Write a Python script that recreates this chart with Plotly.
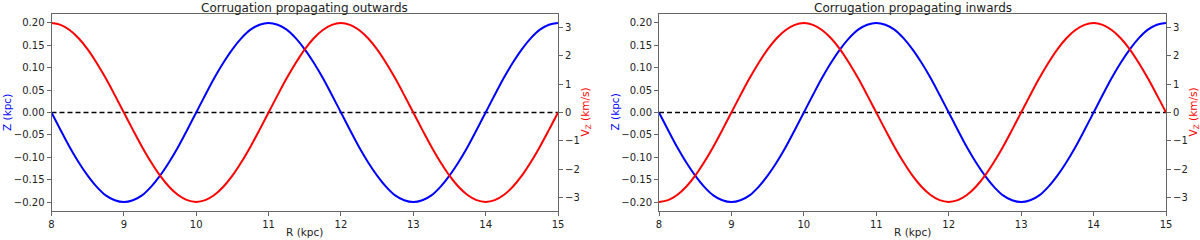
import plotly.graph_objects as go

# Galactocentric radius samples (kpc)
R = [8.0, 8.125, 8.25, 8.375, 8.5, 8.625, 8.75, 8.875,
     9.0, 9.125, 9.25, 9.375, 9.5, 9.625, 9.75, 9.875,
     10.0, 10.125, 10.25, 10.375, 10.5, 10.625, 10.75, 10.875,
     11.0, 11.125, 11.25, 11.375, 11.5, 11.625, 11.75, 11.875,
     12.0, 12.125, 12.25, 12.375, 12.5, 12.625, 12.75, 12.875,
     13.0, 13.125, 13.25, 13.375, 13.5, 13.625, 13.75, 13.875,
     14.0, 14.125, 14.25, 14.375, 14.5, 14.625, 14.75, 14.875,
     15.0]

# Vertical displacement Z (kpc), same in both panels
Z = [0.0, -0.039, -0.077, -0.111, -0.141, -0.166, -0.185, -0.196,
     -0.2, -0.196, -0.185, -0.166, -0.141, -0.111, -0.077, -0.039,
     0.0, 0.039, 0.077, 0.111, 0.141, 0.166, 0.185, 0.196,
     0.2, 0.196, 0.185, 0.166, 0.141, 0.111, 0.077, 0.039,
     0.0, -0.039, -0.077, -0.111, -0.141, -0.166, -0.185, -0.196,
     -0.2, -0.196, -0.185, -0.166, -0.141, -0.111, -0.077, -0.039,
     0.0, 0.039, 0.077, 0.111, 0.141, 0.166, 0.185, 0.196,
     0.2]

# Vertical velocity V_Z (km/s), corrugation propagating outwards
VZ_out = [3.14, 3.08, 2.90, 2.61, 2.22, 1.74, 1.20, 0.61,
          0.0, -0.61, -1.20, -1.74, -2.22, -2.61, -2.90, -3.08,
          -3.14, -3.08, -2.90, -2.61, -2.22, -1.74, -1.20, -0.61,
          0.0, 0.61, 1.20, 1.74, 2.22, 2.61, 2.90, 3.08,
          3.14, 3.08, 2.90, 2.61, 2.22, 1.74, 1.20, 0.61,
          0.0, -0.61, -1.20, -1.74, -2.22, -2.61, -2.90, -3.08,
          -3.14, -3.08, -2.90, -2.61, -2.22, -1.74, -1.20, -0.61,
          0.0]

# Vertical velocity V_Z (km/s), corrugation propagating inwards
VZ_in = [-3.14, -3.08, -2.90, -2.61, -2.22, -1.74, -1.20, -0.61,
         0.0, 0.61, 1.20, 1.74, 2.22, 2.61, 2.90, 3.08,
         3.14, 3.08, 2.90, 2.61, 2.22, 1.74, 1.20, 0.61,
         0.0, -0.61, -1.20, -1.74, -2.22, -2.61, -2.90, -3.08,
         -3.14, -3.08, -2.90, -2.61, -2.22, -1.74, -1.20, -0.61,
         0.0, 0.61, 1.20, 1.74, 2.22, 2.61, 2.90, 3.08,
         3.14, 3.08, 2.90, 2.61, 2.22, 1.74, 1.20, 0.61,
         0.0]

titles = ["Corrugation propagating outwards", "Corrugation propagating inwards"]
x_ticks = [8, 9, 10, 11, 12, 13, 14, 15]
z_ticks = [-0.20, -0.15, -0.10, -0.05, 0.00, 0.05, 0.10, 0.15, 0.20]
v_ticks = [-3, -2, -1, 0, 1, 2, 3]

W, H = 1200, 240
left_px = [(51.5, 558), (659, 1166)]
top_px, bot_px = 14, 211
ydom = [(H - bot_px) / H, (H - top_px) / H]

FONT = "DejaVu Sans"
TXT = "#222222"
AXC = "#666666"


def px(xp, yp):
    return xp / W, 1 - yp / H


fig = go.Figure()
layout = dict(
    width=W, height=H, margin=dict(l=0, r=0, t=0, b=0),
    paper_bgcolor="white", plot_bgcolor="white", showlegend=False,
    font=dict(family=FONT, size=10, color=TXT),
)
annotations = []

for i, (vz, title) in enumerate([(VZ_out, titles[0]), (VZ_in, titles[1])]):
    xa = "x" if i == 0 else "x2"
    yl = "y" if i == 0 else "y3"
    yr = "y2" if i == 0 else "y4"
    fig.add_trace(go.Scatter(x=[R[0], R[-1]], y=[0, 0], mode="lines",
                             line=dict(color="black", width=1.3, dash="5px,3px"),
                             xaxis=xa, yaxis=yl, hoverinfo="skip"))
    fig.add_trace(go.Scatter(x=R, y=Z, mode="lines", line=dict(color="blue", width=2, shape="spline"),
                             xaxis=xa, yaxis=yl))
    fig.add_trace(go.Scatter(x=R, y=vz, mode="lines", line=dict(color="red", width=2, shape="spline"),
                             xaxis=xa, yaxis=yr))

    xk = "xaxis" if i == 0 else "xaxis2"
    ylk = "yaxis" if i == 0 else "yaxis3"
    yrk = "yaxis2" if i == 0 else "yaxis4"
    x0, x1 = left_px[i]
    layout[xk] = dict(domain=[x0 / W, x1 / W], range=[8, 15], anchor=yl, automargin=False,
                      tickvals=x_ticks, ticktext=[str(t) for t in x_ticks],
                      ticks="outside", ticklen=4, tickcolor=AXC,
                      showline=True, linecolor=AXC, linewidth=1, mirror=True,
                      showgrid=False, zeroline=False)
    layout[ylk] = dict(domain=ydom, range=[-0.22, 0.22], anchor=xa, automargin=False,
                       tickvals=z_ticks, ticktext=[f"{t:.2f}".replace("-", "\u2212") for t in z_ticks],
                       ticks="outside", ticklen=4, tickcolor=AXC,
                       showline=True, linecolor=AXC, linewidth=1, mirror=True,
                       showgrid=False, zeroline=False)
    layout[yrk] = dict(range=[-3.46, 3.46], overlaying=yl, side="right", anchor=xa, automargin=False,
                       tickvals=v_ticks, ticktext=[str(t).replace("-", "\u2212") for t in v_ticks],
                       ticks="outside", ticklen=4, tickcolor=AXC,
                       showline=True, linecolor=AXC, linewidth=1,
                       showgrid=False, zeroline=False)
    cx = (x0 + x1) / 2
    mid_y = (top_px + bot_px) / 2
    # panel title
    ax_, ay_ = px(cx, 7.5)
    annotations.append(dict(text=title, x=ax_, y=ay_, xref="paper", yref="paper",
                            xanchor="center", yanchor="middle", showarrow=False,
                            font=dict(size=12, color=TXT)))
    # x axis title
    ax_, ay_ = px(cx, 232)
    annotations.append(dict(text="R (kpc)", x=ax_, y=ay_, xref="paper", yref="paper",
                            xanchor="center", yanchor="middle", showarrow=False,
                            font=dict(size=10.5, color=TXT)))
    # left y axis title
    ax_, ay_ = px(x0 - 45, mid_y)
    annotations.append(dict(text="Z (kpc)", x=ax_, y=ay_, xref="paper", yref="paper",
                            xanchor="center", yanchor="middle", showarrow=False, textangle=-90,
                            font=dict(size=10.5, color="blue")))
    # right y axis title
    ax_, ay_ = px(x1 + 27, mid_y)
    annotations.append(dict(text="V<sub>Z</sub> (km/s)", x=ax_, y=ay_, xref="paper", yref="paper",
                            xanchor="center", yanchor="middle", showarrow=False, textangle=-90,
                            font=dict(size=10.5, color="red")))

layout["annotations"] = annotations
fig.update_layout(**layout)
fig.write_html("out.html", config={"displayModeBar": False},
               post_script="document.body.style.margin='0px';document.body.style.padding='0px';"
                           "document.documentElement.style.overflow='hidden';")
